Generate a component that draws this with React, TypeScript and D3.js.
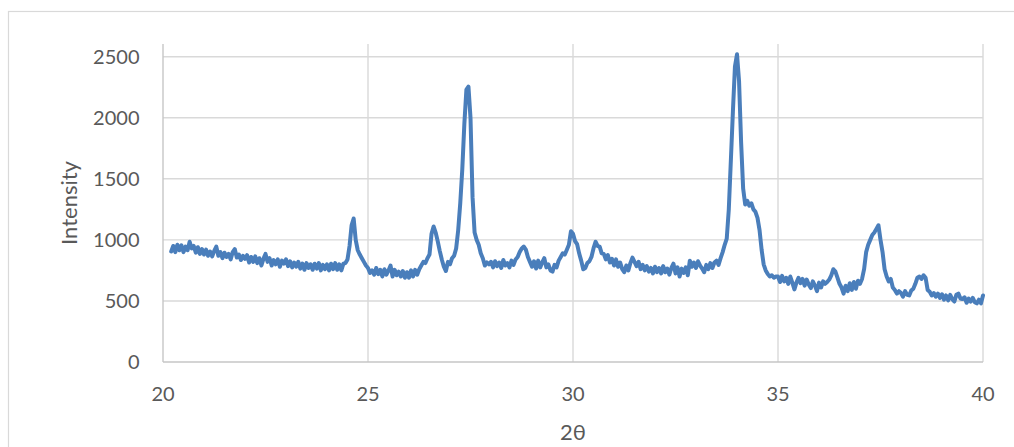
import React, { useEffect, useRef } from "react";
import * as d3 from "d3";

// XRD scan, 2θ from 20.2° in steps of 0.05°, intensity
const startAngle = 20.2;
const angleStep = 0.05;
const intensity = [
    905, 950, 900, 960, 915, 955, 900, 945, 915, 985, 930, 950, 895, 940, 885, 925,
    880, 920, 870, 905, 865, 910, 945, 870, 900, 850, 895, 860, 885, 840, 900, 925, 855, 880, 835, 870,
    845, 875, 815, 860, 820, 865, 810, 850, 790, 845, 885, 820, 850, 790, 835, 800, 840, 780, 830, 805,
    840, 785, 825, 775, 815, 780, 820, 765, 805, 755, 810, 770, 800, 755, 805, 765, 810, 750, 795, 760,
    800, 750, 805, 760, 810, 755, 800, 750, 805, 810, 840, 950, 1120, 1175, 1000, 915, 880, 850, 820, 790,
    770, 730, 750, 715, 770, 720, 755, 700, 760, 715, 750, 790, 700, 755, 710, 740, 700, 745, 690, 735,
    690, 750, 700, 755, 715, 760, 790, 820, 810, 850, 880, 1050, 1110, 1060, 990, 910, 840, 780, 745, 820,
    800, 850, 870, 930, 1080, 1300, 1580, 1950, 2230, 2255, 2000, 1350, 1060, 1000, 960, 890, 850, 790, 815, 800,
    820, 775, 825, 785, 815, 770, 835, 790, 810, 775, 830, 795, 840, 860, 900, 930, 945, 920, 860, 820,
    780, 825, 765, 830, 775, 815, 850, 775, 800, 750, 740, 795, 775, 830, 860, 890, 880, 920, 960, 1070,
    1050, 990, 965, 890, 830, 760, 770, 810, 825, 860, 930, 985, 950, 945, 890, 885, 840, 875, 815, 845,
    790, 840, 780, 815, 760, 735, 790, 750, 810, 855, 820, 785, 820, 760, 795, 750, 785, 740, 770, 725,
    780, 735, 770, 725, 785, 735, 765, 715, 770, 805, 725, 775, 700, 765, 730, 775, 710, 830, 780, 815,
    770, 825, 790, 765, 735, 795, 760, 810, 770, 815, 830, 795, 850, 900, 960, 1010, 1250, 1650, 2050, 2420,
    2520, 2300, 1800, 1420, 1290, 1320, 1280, 1300, 1250, 1230, 1180, 1080, 920, 800, 750, 720, 700, 710, 690, 700,
    700, 655, 705, 660, 690, 640, 700, 650, 595, 650, 690, 645, 680, 625, 675, 635, 605, 660, 625, 580,
    650, 610, 660, 640, 655, 675, 710, 760, 740, 690, 640, 610, 560, 625, 580, 645, 590, 655, 600, 665,
    640, 680, 760, 900, 960, 1000, 1040, 1060, 1090, 1120, 1000, 900, 760, 700, 660, 680, 610, 590, 560, 580,
    565, 535, 580, 550, 545, 585, 600, 640, 690, 700, 680, 710, 690, 590, 575, 545, 565, 535, 560, 525,
    555, 510, 545, 505, 550, 515, 495, 550, 560, 520, 515, 530, 485, 520, 495, 525, 490, 480, 510, 480,
    545,
];
const xTicks = [20, 25, 30, 35, 40];
const yTicks = [0, 500, 1000, 1500, 2000, 2500];
const xTitle = "2θ";
const yTitle = "Intensity";

const WIDTH = 1014;
const HEIGHT = 447;
const FONT = "Lato, 'Open Sans', 'DejaVu Sans', sans-serif";
const TEXT_COLOR = "#595959";

export default function App() {

    const svgRef = useRef<SVGSVGElement | null>(null);

    useEffect(() => {

        const svg = d3.select(svgRef.current);
        svg.selectAll("*").remove();

        const plot = { left: 163, right: 983, top: 44, bottom: 362 };

        const x = d3.scaleLinear().domain([20, 40]).range([plot.left, plot.right]);
        const y = d3.scaleLinear().domain([0, 2500]).range([plot.bottom, 56.7]);

        const points: [number, number][] = intensity.map((v, i) => [startAngle + i * angleStep, v]);

        // chart border
        svg.append("rect")
            .attr("x", 8.5)
            .attr("y", 11.5)
            .attr("width", WIDTH + 20)
            .attr("height", HEIGHT + 20)
            .attr("fill", "#fff")
            .attr("stroke", "#d9d9d9")
            .attr("stroke-width", 1.2);

        // === Gridlines ===
        svg.append("g")
            .selectAll("line")
            .data(yTicks.filter((t) => t > 0))
            .enter()
            .append("line")
            .attr("x1", plot.left)
            .attr("x2", plot.right)
            .attr("y1", (d) => y(d))
            .attr("y2", (d) => y(d))
            .attr("stroke", "#d9d9d9")
            .attr("stroke-width", 1.4);

        svg.append("g")
            .selectAll("line")
            .data(xTicks.filter((t) => t > 20))
            .enter()
            .append("line")
            .attr("x1", (d) => x(d))
            .attr("x2", (d) => x(d))
            .attr("y1", plot.top)
            .attr("y2", plot.bottom)
            .attr("stroke", "#d9d9d9")
            .attr("stroke-width", 1.4);

        // axis lines
        svg.append("line")
            .attr("x1", plot.left).attr("x2", plot.left)
            .attr("y1", plot.top).attr("y2", plot.bottom)
            .attr("stroke", "#c6c6c6").attr("stroke-width", 1.4);
        svg.append("line")
            .attr("x1", plot.left).attr("x2", plot.right)
            .attr("y1", plot.bottom).attr("y2", plot.bottom)
            .attr("stroke", "#c6c6c6").attr("stroke-width", 1.4);

        // === Series ===
        const lineGen = d3.line<[number, number]>()
            .x((d) => x(d[0]))
            .y((d) => y(d[1]));

        svg.append("path")
            .datum(points)
            .attr("fill", "none")
            .attr("stroke", "#4a7ebb")
            .attr("stroke-width", 4)
            .attr("stroke-linejoin", "round")
            .attr("stroke-linecap", "round")
            .attr("d", lineGen);

        // === Tick labels ===
        svg.append("g")
            .selectAll("text")
            .data(yTicks)
            .enter()
            .append("text")
            .attr("x", 139.5)
            .attr("y", (d) => y(d) + 7.3)
            .attr("text-anchor", "end")
            .attr("font-family", FONT)
            .attr("font-size", 20)
            .attr("fill", TEXT_COLOR)
            .text((d) => String(d));

        svg.append("g")
            .selectAll("text")
            .data(xTicks)
            .enter()
            .append("text")
            .attr("x", (d) => x(d))
            .attr("y", 400.5)
            .attr("text-anchor", "middle")
            .attr("font-family", FONT)
            .attr("font-size", 20)
            .attr("fill", TEXT_COLOR)
            .text((d) => String(d));

        // === Axis titles ===
        svg.append("text")
            .attr("x", x(30))
            .attr("y", 439.5)
            .attr("text-anchor", "middle")
            .attr("font-family", FONT)
            .attr("font-size", 22)
            .attr("fill", TEXT_COLOR)
            .text(xTitle);

        svg.append("text")
            .attr("transform", `translate(77, ${(plot.top + plot.bottom) / 2}) rotate(-90)`)
            .attr("text-anchor", "middle")
            .attr("font-family", FONT)
            .attr("font-size", 22)
            .attr("fill", TEXT_COLOR)
            .text(yTitle);

    }, []);

    return (
        <svg
            ref={svgRef}
            width={WIDTH}
            height={HEIGHT}
            style={{ position: "absolute", left: 0, top: 0, background: "#fff" }}
        />
    );
}
